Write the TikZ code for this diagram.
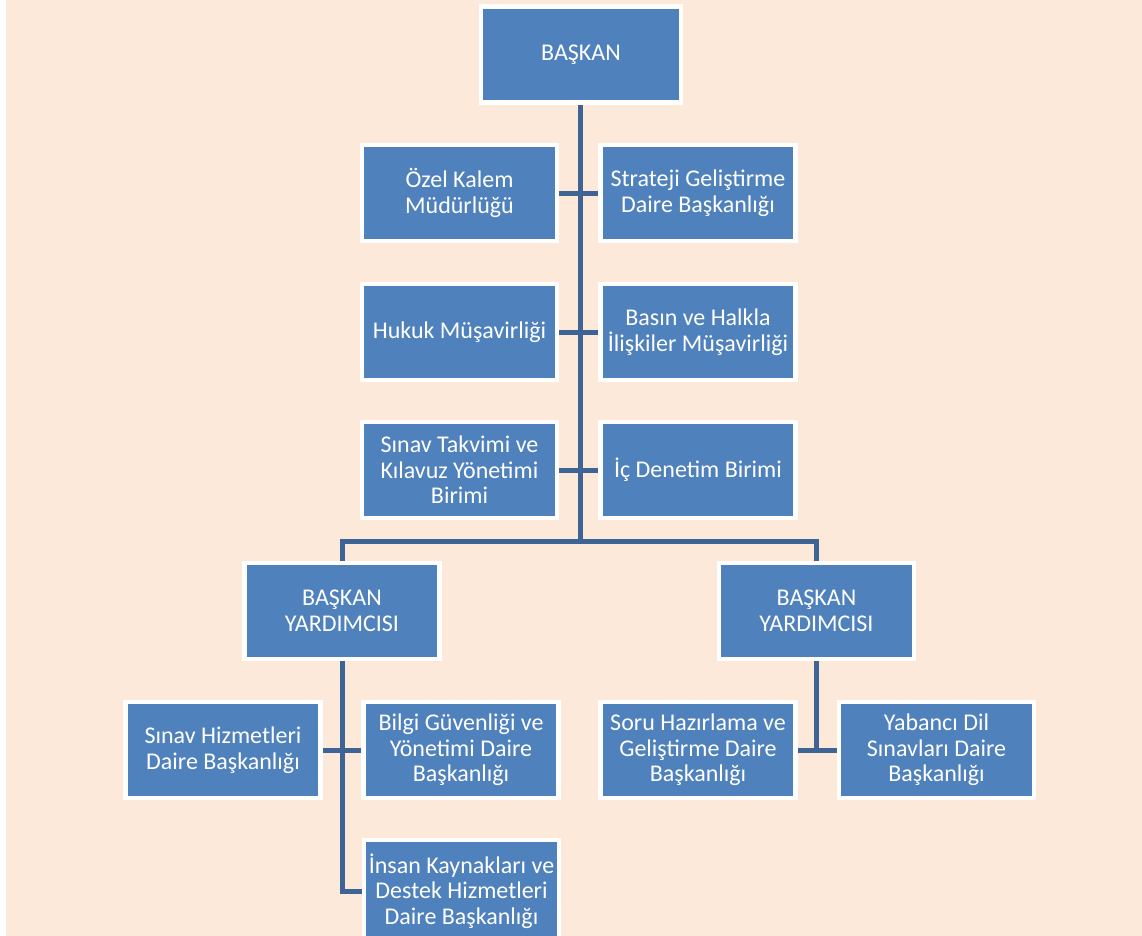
\documentclass[tikz,border=0pt]{standalone}
\usepackage{fontspec}
\setmainfont{Carlito}
\usetikzlibrary{positioning}
\definecolor{peach}{RGB}{253,233,217}
\definecolor{boxblue}{RGB}{79,129,189}
\definecolor{linkblue}{RGB}{62,100,150}
\tikzstyle{unit}=[rectangle, draw=white, line width=4.5pt, fill=boxblue, text=white, align=center, inner sep=0pt, minimum width=195pt, minimum height=96pt, font=\fontsize{24}{25.5}\selectfont]
\tikzstyle{head}=[unit, minimum width=200pt]
\tikzstyle{myline}=[draw=linkblue, line width=5pt]
\pgfdeclarelayer{background}
\pgfsetlayers{background,main}

\begin{document}
\begin{tikzpicture}[x=1pt,y=-1pt]

    \useasboundingbox (0,0) rectangle (1142,936);
    \begin{pgfonlayer}{background}
        \fill[peach] (0,0) rectangle (1142,936);
        \fill[white] (0,0) rectangle (6,936);
    \end{pgfonlayer}{background}
    \clip (0,0) rectangle (1142,936);

        % Top
        \node (baskan) [head] at (581,54.5) {BA\c{S}KAN};

        % Units under the president
        \node (ozel) [unit] at (459.5,193) {Özel Kalem\\Müdürlüğü};
        \node (strateji) [unit, right of=ozel, node distance=238.5pt] {Strateji Geliştirme\\Daire Başkanlığı};

        \node (hukuk) [unit, below of=ozel, node distance=139pt] {Hukuk Müşavirliği};
        \node (basin) [unit, right of=hukuk, node distance=238.5pt] {Basın ve Halkla\\İlişkiler Müşavirliği};

        \node (takvim) [unit, below of=hukuk, node distance=138pt] {Sınav Takvimi ve\\Kılavuz Yönetimi\\Birimi};
        \node (icdenetim) [unit, right of=takvim, node distance=238.5pt] {İç Denetim Birimi};

        % Vice presidents
        \node (yardimci1) [unit] at (342,611) {BAŞKAN\\YARDIMCISI};
        \node (yardimci2) [unit] at (816.5,611) {BAŞKAN\\YARDIMCISI};

        % Left vice president
        \node (sinavhiz) [unit] at (223,750) {Sınav Hizmetleri\\Daire Başkanlığı};
        \node (bilgi) [unit, right of=sinavhiz, node distance=238pt] {Bilgi Güvenliği ve\\Yönetimi Daire\\Başkanlığı};
        \node (insan) [unit, minimum height=102pt] at (461.5,891) {İnsan Kaynakları ve\\Destek Hizmetleri\\Daire Başkanlığı};

        % Right vice president
        \node (soru) [unit] at (698,750) {Soru Hazırlama ve\\Geliştirme Daire\\Başkanlığı};
        \node (yabanci) [unit, right of=soru, node distance=238.5pt] {Yabancı Dil\\Sınavları Daire\\Başkanlığı};

        \coordinate (split) at (580,541);

    \begin{pgfonlayer}{background}
        %Trunk
        \draw[myline] (baskan.south -| split) -- (split);
        \draw[myline] (ozel) -- (strateji);
        \draw[myline] (hukuk) -- (basin);
        \draw[myline] (takvim) -- (icdenetim);

        %Vice president arrows
        \draw[myline] (yardimci1.north) |- (split) -| (yardimci2.north);

        %Left branch
        \draw[myline] (yardimci1.south) |- (insan.west);
        \draw[myline] (sinavhiz) -- (bilgi);

        %Right branch
        \draw[myline] (yardimci2.south) -- (yardimci2.south |- soru.east);
        \draw[myline] (soru) -- (yabanci);
    \end{pgfonlayer}{background}

\end{tikzpicture}
\end{document}
